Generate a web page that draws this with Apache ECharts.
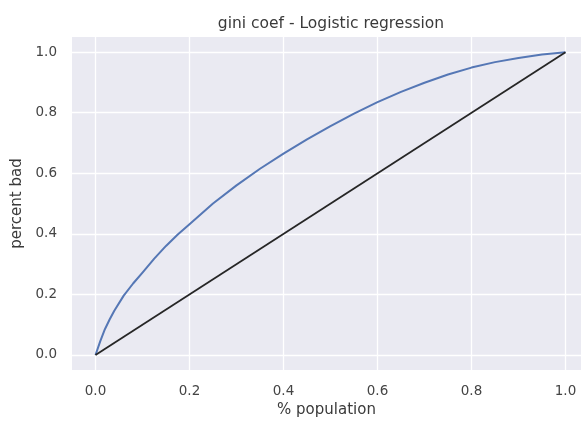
<!DOCTYPE html>
<html>
<head>
<meta charset="utf-8">
<script src="https://cdn.jsdelivr.net/npm/echarts@6/dist/echarts.min.js"></script>
<style>
html,body{margin:0;padding:0;background:#fff;}
#main{width:581px;height:423px;}
</style>
</head>
<body>
<div id="main"></div>
<script>
const titleText = 'gini coef - Logistic regression';
const xName = '% population';
const yName = 'percent bad';
const xTicks = [0, 0.2, 0.4, 0.6, 0.8, 1.0];
const yTicks = [0, 0.2, 0.4, 0.6, 0.8, 1.0];
const popX = [0, 0.01, 0.02, 0.03, 0.04, 0.06, 0.08, 0.1, 0.125, 0.15, 0.175, 0.2, 0.25, 0.3, 0.35, 0.4, 0.45, 0.5, 0.55, 0.6, 0.65, 0.7, 0.75, 0.8, 0.85, 0.9, 0.95, 1.0];
const badY = [0, 0.045, 0.085, 0.117, 0.146, 0.196, 0.236, 0.272, 0.318, 0.36, 0.398, 0.432, 0.50, 0.56, 0.615, 0.665, 0.712, 0.756, 0.797, 0.835, 0.869, 0.899, 0.926, 0.949, 0.967, 0.981, 0.992, 1.0];
const diagX = [0, 1];
const diagY = [0, 1];

const chart = echarts.init(document.getElementById('main'), null, {renderer: 'canvas'});
const fmt = v => Number(v).toFixed(1);
const gridLines = xTicks.map(v => ({xAxis: v})).concat(yTicks.map(v => ({yAxis: v})));
const FONT = 'DejaVu Sans';

chart.setOption({
  animation: false,
  backgroundColor: '#ffffff',
  title: {
    text: titleText, left: 326, top: 11, textAlign: 'center',
    textStyle: {fontFamily: FONT, fontSize: 15.5, fontWeight: 'normal', color: '#3a3a3a'}
  },
  grid: {
    left: 72, top: 37, right: 0, height: 334,
    show: true, backgroundColor: '#EAEAF2', borderWidth: 0
  },
  xAxis: {
    type: 'value', min: -0.05, max: 1.033,
    name: xName, nameLocation: 'middle', nameGap: 30,
    nameTextStyle: {fontFamily: FONT, fontSize: 15, color: '#3a3a3a'},
    axisLine: {show: false}, axisTick: {show: false}, splitLine: {show: false},
    axisLabel: {customValues: xTicks, formatter: fmt, margin: 14,
      fontFamily: FONT, fontSize: 13.5, color: '#444'}
  },
  yAxis: {
    type: 'value', min: -0.05, max: 1.05,
    name: yName, nameLocation: 'middle', nameGap: 45, nameRotate: 90,
    nameTextStyle: {fontFamily: FONT, fontSize: 15, color: '#3a3a3a'},
    axisLine: {show: false}, axisTick: {show: false}, splitLine: {show: false},
    axisLabel: {customValues: yTicks, formatter: fmt, margin: 15,
      fontFamily: FONT, fontSize: 13.5, color: '#444'}
  },
  series: [
    {
      type: 'line', data: [], z: 1, silent: true,
      markLine: {
        z: 1, silent: true, symbol: ['none', 'none'], label: {show: false},
        lineStyle: {color: '#ffffff', width: 1.3, type: 'solid'},
        emphasis: {disabled: true},
        data: gridLines
      }
    },
    {
      type: 'line', z: 3, showSymbol: false, smooth: false,
      data: popX.map((x, i) => [x, badY[i]]),
      lineStyle: {color: '#5577B5', width: 2, join: 'round'}
    },
    {
      type: 'line', z: 4, showSymbol: false,
      data: diagX.map((x, i) => [x, diagY[i]]),
      lineStyle: {color: '#262626', width: 1.8}
    }
  ]
});
</script>
</body>
</html>
